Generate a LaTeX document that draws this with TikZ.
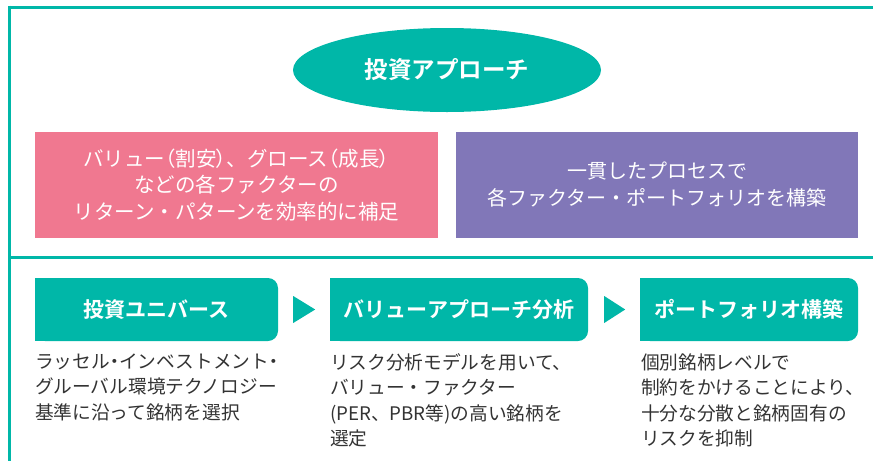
\documentclass[tikz,border=0pt]{standalone}
\usepackage{fontspec}
\setmainfont{Noto Sans CJK JP}[BoldFont={Noto Sans CJK JP Bold}]
\newfontfamily\jpp{Noto Sans CJK JP}[RawFeature=+palt]
\usetikzlibrary{shapes.geometric,calc}
\definecolor{tealc}{HTML}{00B7A8}
\definecolor{pinkc}{HTML}{F07890}
\definecolor{purpc}{HTML}{8177B8}
\definecolor{txtc}{HTML}{333333}
\tikzset{
  frameline/.style={draw=tealc,line width=3pt},
  topbox/.style={rectangle,inner sep=0pt,minimum height=106pt,text=white,align=center,
    font=\fontsize{20.5}{26.5}\selectfont},
  stepbox/.style={rectangle,rounded corners=10pt,fill=tealc,inner sep=0pt,minimum height=63pt,
    text=white,font=\fontsize{21}{25}\selectfont\bfseries},
  desc/.style={anchor=north west,inner sep=0pt,align=left,text=txtc,
    font=\fontsize{18.7}{25.5}\selectfont},
  tri/.style={fill=tealc},
}
\begin{document}
\begin{tikzpicture}[x=1pt,y=-1pt]
\useasboundingbox (0,0) rectangle (873,461);
% frame
\draw[frameline] (9,7) -- (873,7);
\draw[frameline] (9,5.5) -- (9,461);
\draw[frameline] (9,257) -- (873,257);
% ellipse
\node[ellipse,fill=tealc,minimum width=308pt,minimum height=84pt,inner sep=0pt,
  text=white,font=\fontsize{23.5}{27}\selectfont\bfseries] (title) at (447,70) {投資アプローチ};
% top boxes
\node[topbox,fill=pinkc,minimum width=403pt] (pink) at (236.5,185)
  {バリュー{\jpp （}割安{\jpp ）}、グロース{\jpp （}成長{\jpp ）}\\などの各ファクターの\\リターン・パターンを効率的に補足};
\node[topbox,fill=purpc,minimum width=402pt,font=\fontsize{20}{27}\selectfont] (purp) at (657,185)
  {一貫したプロセスで\\各ファクター・ポートフォリオを構築};
% step boxes
\node[stepbox,minimum width=243pt] (b1) at (156.5,309.5) {投資ユニバース};
\node[stepbox,minimum width=258pt] (b2) at (459,309.5) {バリューアプローチ分析};
\node[stepbox,minimum width=218pt] (b3) at (749,309.5) {ポートフォリオ構築};
\foreach \b in {b1,b2,b3}{
  \fill[tealc] (\b.north west) rectangle ([xshift=14pt]\b.south west);
}
% triangles
\fill[tri] ($(b1.east)+(15,-13.5)$) -- ($(b1.east)+(37,0)$) -- ($(b1.east)+(15,13.5)$) -- cycle;
\fill[tri] ($(b2.east)+(16,-13.5)$) -- ($(b2.east)+(37,0)$) -- ($(b2.east)+(16,13.5)$) -- cycle;
% descriptions
\node[desc] (d1) at ($(b1.south west)+(0,12)$)
  {ラッセル{\jpp ・}インベストメント{\jpp ・}\\グルーバル環境テクノロジー\\基準に沿って銘柄を選択};
\node[desc] (d2) at ($(b2.south west)+(0,12)$)
  {リスク分析モデルを用いて、\\バリュー・ファクター\\(PER、PBR等)の高い銘柄を\\選定};
\node[desc] (d3) at ($(b3.south west)+(1,12)$)
  {個別銘柄レベルで\\制約をかけることにより、\\十分な分散と銘柄固有の\\リスクを抑制};
\end{tikzpicture}
\end{document}
